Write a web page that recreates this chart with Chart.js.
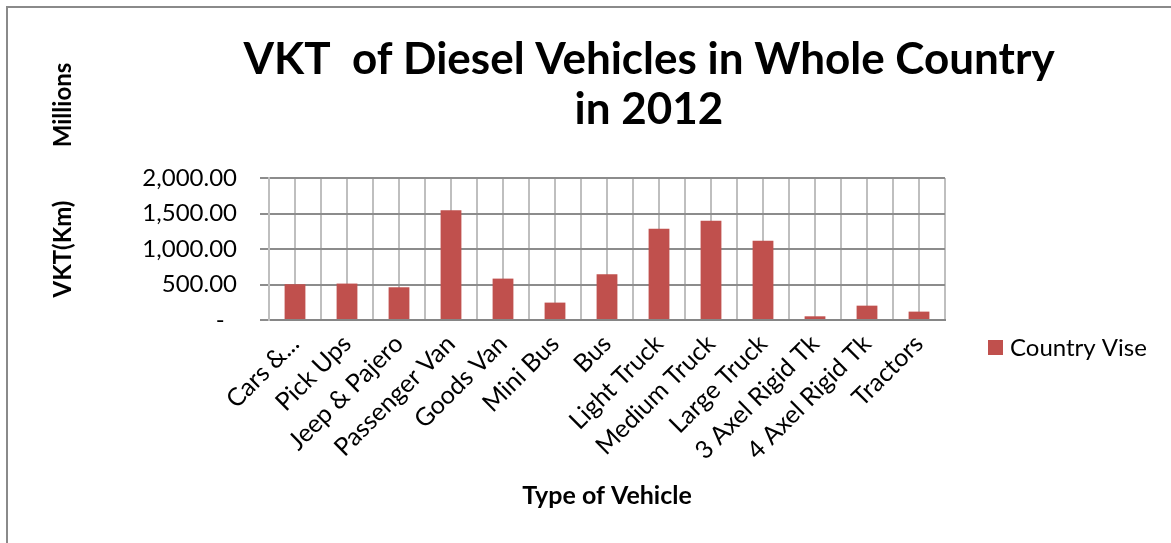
<!DOCTYPE html>
<html>
<head>
<meta charset="utf-8">
<script src="https://cdn.jsdelivr.net/npm/chart.js@4.4.1/dist/chart.umd.min.js"></script>
<style>
  html, body { margin: 0; padding: 0; background: #fff; }
</style>
</head>
<body>
<canvas id="chart" width="1171" height="543"></canvas>
<script>
// values, in millions of km
const vehicleTypes = [
  'Cars &...', 'Pick Ups', 'Jeep & Pajero', 'Passenger Van', 'Goods Van',
  'Mini Bus', 'Bus', 'Light Truck', 'Medium Truck', 'Large Truck',
  '3 Axel Rigid Tk', '4 Axel Rigid Tk', 'Tractors'
];
const vktMillions = [504, 513, 461, 1547, 583, 245, 645, 1285, 1398, 1115, 52, 202, 118];
const seriesName = 'Country Vise';
const titleLines = ['VKT  of Diesel Vehicles in Whole Country', 'in 2012'];
const yMin = 0;
const yMax = 2000;
const yStep = 500;

const FONT = 'Lato, "Liberation Sans", sans-serif';
const BAR_COLOR = '#C0504D';

// chart title, units label, legend and the outer frame
const decorations = {
  id: 'decorations',
  beforeDraw(chart) {
    const ctx = chart.ctx;
    ctx.save();
    ctx.fillStyle = '#fff';
    ctx.fillRect(0, 0, chart.width, chart.height);
    ctx.strokeStyle = '#8a8a8a';
    ctx.lineWidth = 2;
    ctx.strokeRect(7, 7, chart.width + 20, chart.height + 20);
    ctx.restore();
  },
  afterDraw(chart) {
    const ctx = chart.ctx;
    ctx.save();
    ctx.fillStyle = '#000';
    ctx.textAlign = 'center';
    ctx.textBaseline = 'alphabetic';
    ctx.font = 'bold 44px ' + FONT;
    ctx.fillText(titleLines[0], 649, 74);
    ctx.fillText(titleLines[1], 649, 124);

    ctx.save();
    ctx.translate(63, 105);
    ctx.rotate(-Math.PI / 2);
    ctx.font = 'bold 24px ' + FONT;
    ctx.textBaseline = 'middle';
    ctx.fillText('Millions', 0, 0);
    ctx.restore();

    const ds = chart.data.datasets[0];
    ctx.fillStyle = ds.backgroundColor;
    ctx.fillRect(988, 340, 15, 15);
    ctx.fillStyle = '#000';
    ctx.textAlign = 'left';
    ctx.textBaseline = 'middle';
    ctx.font = '24px ' + FONT;
    ctx.fillText(ds.label, 1010, 348);
    ctx.restore();
  }
};

function fmtTick(v) {
  if (v === 0) return '-  ';
  return v.toLocaleString('en-US', { minimumFractionDigits: 2, maximumFractionDigits: 2 });
}

new Chart(document.getElementById('chart'), {
  type: 'bar',
  data: {
    labels: vehicleTypes,
    datasets: [{
      label: seriesName,
      data: vktMillions,
      backgroundColor: BAR_COLOR,
      borderWidth: 0,
      barPercentage: 0.4,
      categoryPercentage: 1.0
    }]
  },
  options: {
    responsive: false,
    animation: false,
    layout: { padding: { top: 178, left: 40, right: 226, bottom: 0 } },
    plugins: {
      legend: { display: false },
      title: { display: false },
      tooltip: { enabled: false }
    },
    scales: {
      x: {
        offset: true,
        grid: { offset: true, color: '#bfbfbf', lineWidth: 2, drawTicks: false },
        border: { color: '#868686', width: 2 },
        ticks: {
          autoSkip: false,
          maxRotation: 45,
          minRotation: 45,
          padding: 9,
          color: '#000',
          font: { family: FONT, size: 25 }
        },
        title: {
          display: true,
          text: 'Type of Vehicle',
          color: '#000',
          font: { family: FONT, size: 25, weight: 'bold' },
          padding: { top: 0, bottom: 32 }
        },
        afterFit(scale) { scale.height = 223; }
      },
      xMid: {
        type: 'category',
        position: 'top',
        offset: true,
        grid: { offset: false, color: '#bfbfbf', lineWidth: 2, drawTicks: false },
        border: { display: false },
        ticks: { display: false },
        afterFit(scale) { scale.height = 0; }
      },
      y: {
        min: yMin,
        max: yMax,
        grid: { color: '#8c8c8c', lineWidth: 2, tickLength: 9 },
        border: { color: '#bfbfbf', width: 2 },
        ticks: {
          stepSize: yStep,
          padding: 23,
          color: '#000',
          font: { family: FONT, size: 24 },
          callback: (v) => fmtTick(v)
        },
        title: {
          display: true,
          text: 'VKT(Km)',
          color: '#000',
          font: { family: FONT, size: 24, weight: 'bold' },
          padding: { top: 9, bottom: 0 }
        },
        afterFit(scale) { scale.width = 229; }
      }
    }
  },
  plugins: [decorations]
});
</script>
</body>
</html>
